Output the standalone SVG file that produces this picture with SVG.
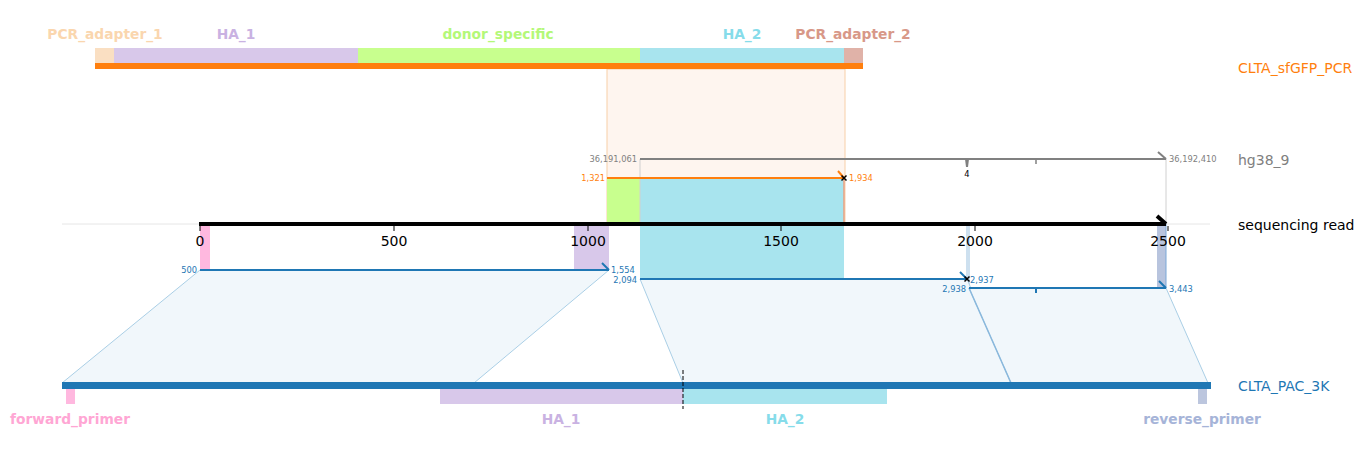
<svg xmlns="http://www.w3.org/2000/svg" width="1364" height="453" viewBox="0 0 1364 453">
<style>
text{font-family:"DejaVu Sans","Liberation Sans",sans-serif}
.flab{font-size:13.8px;font-weight:bold;text-anchor:middle}
.trk{font-size:14px}
.tick{font-size:14px;text-anchor:middle;fill:#000}
.sm{font-size:8.3px}
.par{fill:#f1f7fb;stroke:#aacfe6;stroke-width:1}
.bl{stroke:#1f77b4;stroke-width:2;fill:none}
</style>
<rect width="1364" height="453" fill="#fff"/>
<g id="guide"><line x1="62" y1="224" x2="1210" y2="224" stroke="#e6e6e6" stroke-width="1"/></g>

<g id="shade">
<rect x="607" y="69" width="238" height="155" fill="#fef5ef" stroke="#f8cfa8" stroke-width="1"/>
<rect x="607" y="178" width="33" height="46" fill="#c8ff8e"/>
<rect x="640" y="178" width="204" height="101" fill="#a8e4ee"/>
<line x1="844" y1="178" x2="844" y2="224" stroke="#e8a080" stroke-width="1.5"/>
<line x1="640" y1="159" x2="640" y2="224" stroke="#d0d0d0" stroke-width="1"/>
<line x1="1166" y1="159" x2="1166" y2="224" stroke="#d0d0d0" stroke-width="1"/>
<rect x="200" y="224" width="10" height="46" fill="#ffb8df"/>
<rect x="574" y="224" width="35" height="46" fill="#d8c8ea"/>
<rect x="1157" y="224" width="9" height="64" fill="#b8c4de"/>
<line x1="1166" y1="224" x2="1166" y2="288" stroke="#7aa8d8" stroke-width="1"/>
<line x1="967" y1="224" x2="967" y2="279" stroke="#bcd6ea" stroke-width="1.5"/>
<line x1="969" y1="224" x2="969" y2="288" stroke="#bcd6ea" stroke-width="1.5"/>
</g>

<g id="connectors">
<polygon class="par" points="200,270 609,270 474,383 62,383"/>
<polygon class="par" points="640,279 967,279 1011,383 683,383"/>
<polygon class="par" points="969,288 1166,288 1208,383 1011,383"/>
<line x1="969" y1="288" x2="1011" y2="383" stroke="#8ab8dc" stroke-width="1.5"/>
</g>

<g id="CLTA_sfGFP_PCR">
<rect x="95" y="48" width="19" height="15" fill="#fadfc2"/>
<rect x="114" y="48" width="244" height="15" fill="#d8c8ea"/>
<rect x="358" y="48" width="282" height="15" fill="#c8ff8e"/>
<rect x="640" y="48" width="204" height="15" fill="#a8e4ee"/>
<rect x="844" y="48" width="19" height="15" fill="#e0b2a8"/>
<rect x="95" y="63" width="768" height="6" fill="#ff7f0e"/>
<text class="flab" x="105" y="39" fill="#fad6ae">PCR_adapter_1</text>
<text class="flab" x="236" y="39" fill="#c9b2e2">HA_1</text>
<text class="flab" x="498" y="39" fill="#b4f878">donor_specific</text>
<text class="flab" x="742" y="39" fill="#86dcea">HA_2</text>
<text class="flab" x="853" y="39" fill="#d89888">PCR_adapter_2</text>
<text class="trk" x="1238" y="73" fill="#ff7f0e">CLTA_sfGFP_PCR</text>
</g>

<g id="hg38_9">
<line x1="640" y1="159" x2="1166" y2="159" stroke="#808080" stroke-width="2"/>
<line x1="1158" y1="152" x2="1166" y2="159" stroke="#808080" stroke-width="2"/>
<polygon points="965,159 969,159 968,167 966,167" fill="#808080"/>
<line x1="1036" y1="159" x2="1036" y2="164" stroke="#808080" stroke-width="1.5"/>
<text class="sm" x="967" y="177" text-anchor="middle" fill="#000">4</text>
<text class="sm" x="637" y="162" text-anchor="end" fill="#808080">36,191,061</text>
<text class="sm" x="1169" y="162" fill="#808080">36,192,410</text>
<text class="trk" x="1238" y="165" fill="#808080">hg38_9</text>
</g>

<g id="orange_aln">
<line x1="607" y1="178" x2="844" y2="178" stroke="#ff7f0e" stroke-width="2"/>
<line x1="838" y1="171" x2="844" y2="178" stroke="#ff7f0e" stroke-width="2"/>
<path d="M841.5,175.5 L846.5,180.5 M846.5,175.5 L841.5,180.5" stroke="#000" stroke-width="1.5"/>
<text class="sm" x="605" y="181" text-anchor="end" fill="#ff7f0e">1,321</text>
<text class="sm" x="849" y="181" fill="#ff7f0e">1,934</text>
</g>

<g id="sequencing_read">
<line x1="199" y1="224" x2="1166" y2="224" stroke="#000" stroke-width="4"/>
<line x1="1157" y1="216" x2="1166" y2="224" stroke="#000" stroke-width="4"/>
<g stroke="#000" stroke-width="1">
<line x1="200" y1="226" x2="200" y2="231"/><line x1="394" y1="226" x2="394" y2="231"/><line x1="588" y1="226" x2="588" y2="231"/><line x1="781" y1="226" x2="781" y2="231"/><line x1="975" y1="226" x2="975" y2="231"/><line x1="1168" y1="226" x2="1168" y2="231"/>
</g>
<text class="tick" x="200" y="246">0</text>
<text class="tick" x="394" y="246">500</text>
<text class="tick" x="588" y="246">1000</text>
<text class="tick" x="781" y="246">1500</text>
<text class="tick" x="975" y="246">2000</text>
<text class="tick" x="1168" y="246">2500</text>
<text class="trk" x="1238" y="230" fill="#000">sequencing read</text>
</g>

<g id="blue_aln">
<line class="bl" x1="200" y1="270" x2="609" y2="270"/>
<line class="bl" x1="602" y1="263" x2="609" y2="270"/>
<line class="bl" x1="640" y1="279" x2="967" y2="279"/>
<line class="bl" x1="960" y1="272" x2="967" y2="279"/>
<path d="M964.5,276.5 L969.5,281.5 M969.5,276.5 L964.5,281.5" stroke="#000" stroke-width="1.5"/>
<line class="bl" x1="969" y1="288" x2="1166" y2="288"/>
<line class="bl" x1="1159" y1="281" x2="1166" y2="288"/>
<line x1="1036" y1="288" x2="1036" y2="293" stroke="#1f77b4" stroke-width="2"/>
<text class="sm" x="197" y="273" text-anchor="end" fill="#1f77b4">500</text>
<text class="sm" x="611" y="273" fill="#1f77b4">1,554</text>
<text class="sm" x="637" y="283" text-anchor="end" fill="#1f77b4">2,094</text>
<text class="sm" x="970" y="283" fill="#1f77b4">2,937</text>
<text class="sm" x="966" y="292" text-anchor="end" fill="#1f77b4">2,938</text>
<text class="sm" x="1169" y="292" fill="#1f77b4">3,443</text>
</g>

<g id="CLTA_PAC_3K">
<rect x="62" y="382" width="1149" height="7" fill="#1f77b4"/>
<rect x="66" y="389" width="9" height="15" fill="#ffb8df"/>
<rect x="440" y="389" width="243" height="15" fill="#d8c8ea"/>
<rect x="683" y="389" width="204" height="15" fill="#a8e4ee"/>
<rect x="1198" y="389" width="9" height="15" fill="#bcc6de"/>
<line x1="683" y1="370" x2="683" y2="409" stroke="#000" stroke-width="1" stroke-dasharray="4,2"/>
<text class="flab" x="70" y="424" fill="#ffa6d4">forward_primer</text>
<text class="flab" x="561" y="424" fill="#c9b2e2">HA_1</text>
<text class="flab" x="785" y="424" fill="#86dcea">HA_2</text>
<text class="flab" x="1202" y="424" fill="#a6b4d8">reverse_primer</text>
<text class="trk" x="1238" y="391" fill="#1f77b4">CLTA_PAC_3K</text>
</g>
</svg>
